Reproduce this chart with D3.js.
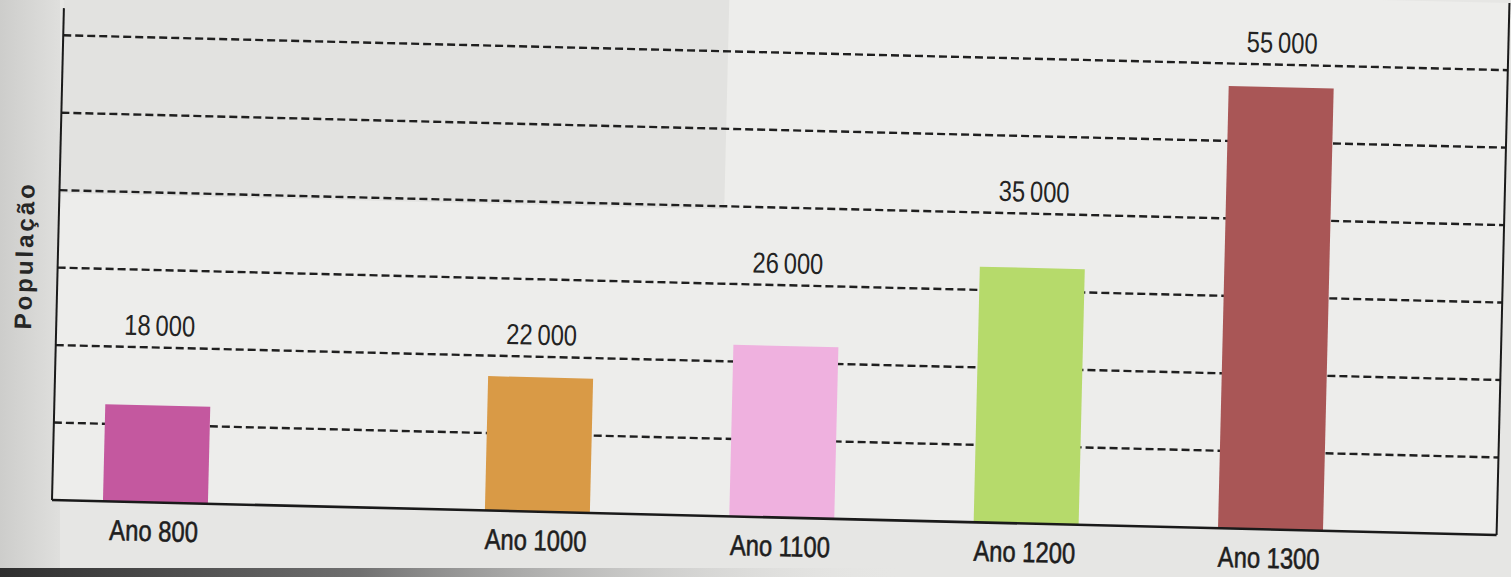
<!DOCTYPE html>
<html>
<head>
<meta charset="utf-8">
<script src="https://cdn.jsdelivr.net/npm/d3@7"></script>
<style>
  html, body { margin: 0; padding: 0; background: #e4e4e2; }
  svg { display: block; }
</style>
</head>
<body>
<svg id="chart" width="1511" height="577"></svg>
<script>
// données
const anos = [800, 1000, 1100, 1200, 1300];
const populacao = [18000, 22000, 26000, 35000, 55000];
const cores = ["#c4589f", "#d99a46", "#efb1df", "#b6da6b", "#a95656"];
const eixoY = "População";

const svg = d3.select("#chart");
const W = 1445, H = 492;       // cadre du graphique (non incliné)
const angle = 1.385;           // la photo est légèrement tournée
const police = "'Liberation Sans', Arial, sans-serif";
const etroit = "scale(0.82,1)"; // police condensée

// fond de la page photographiée
const defs = svg.append("defs");
const gLeft = defs.append("linearGradient").attr("id", "bordGauche");
gLeft.append("stop").attr("offset", "0%").attr("stop-color", "#cdcdcb");
gLeft.append("stop").attr("offset", "100%").attr("stop-color", "#dfdfdd");
const gBas = defs.append("linearGradient").attr("id", "bordBas");
gBas.append("stop").attr("offset", "0%").attr("stop-color", "#2e2e2e");
gBas.append("stop").attr("offset", "40%").attr("stop-color", "#707070");
gBas.append("stop").attr("offset", "100%").attr("stop-color", "#e4e4e2").attr("stop-opacity", 0);

svg.append("rect").attr("width", 1511).attr("height", 577).attr("fill", "#e6e6e4");
svg.append("rect").attr("width", 60).attr("height", 577).attr("fill", "url(#bordGauche)");

const g = svg.append("g")
    .attr("transform", `translate(52,500) rotate(${angle}) translate(0,${-H})`);

// zone intérieure plus claire
g.append("rect")
    .attr("x", 0).attr("y", -40)
    .attr("width", W).attr("height", H + 40)
    .attr("fill", "#ededeb");
g.append("rect")
    .attr("x", 0).attr("y", -40)
    .attr("width", 665).attr("height", 225)
    .attr("fill", "#e2e2e0");

svg.append("rect")
    .attr("x", 0).attr("y", 568).attr("width", 900).attr("height", 9)
    .attr("fill", "url(#bordBas)");

// échelles
const x = d3.scaleLinear()
    .domain([800, 1000, 1300])
    .range([W * 0.0716, W * 0.336, W * 0.8435]);

const y = d3.scaleLinear()
    .domain([7600, 60000])
    .range([H, 3]);

// lignes pointillées
const grid = d3.scaleLinear().domain([0, 6.35]).range([H, 0]);
g.append("g")
    .selectAll("line")
    .data(grid.ticks(6).filter(d => d > 0))
    .enter().append("line")
    .attr("x1", 0)
    .attr("x2", W)
    .attr("y1", d => grid(d))
    .attr("y2", d => grid(d))
    .attr("stroke", "#1f1f1f")
    .attr("stroke-width", 2.4)
    .attr("stroke-dasharray", "8,4");

// barres
const larg = 105;
const dados = anos.map((a, i) => ({ ano: a, valor: populacao[i], cor: cores[i] }));

g.append("g")
    .selectAll("rect")
    .data(dados)
    .enter().append("rect")
    .attr("x", d => x(d.ano) - larg / 2)
    .attr("y", d => y(d.valor))
    .attr("width", larg)
    .attr("height", d => H - y(d.valor))
    .attr("fill", d => d.cor);

// valeurs : posées juste au-dessus de la première ligne pointillée qui dépasse la barre
const fmt = v => d3.format(",")(v).replace(",", "\u2009");
const posLabel = v => grid(Math.ceil(grid.invert(y(v)))) - 12;
g.append("g")
    .selectAll("text")
    .data(dados)
    .enter().append("text")
    .attr("transform", d => `translate(${x(d.ano)},${posLabel(d.valor)}) ${etroit}`)
    .attr("text-anchor", "middle")
    .attr("font-family", police)
    .attr("font-size", "29px")
    .attr("fill", "#232323")
    .text(d => fmt(d.valor));

// axes
const axeX = g.append("g")
    .attr("transform", `translate(0,${H})`)
    .call(d3.axisBottom(x)
        .tickValues(anos)
        .tickSize(0)
        .tickPadding(18)
        .tickFormat(d => "Ano " + d));
axeX.select(".domain").remove();
axeX.selectAll("text")
    .attr("transform", etroit)
    .attr("dx", -2)
    .attr("font-family", police)
    .attr("font-size", "29px")
    .attr("fill", "#1e1e1e")
    .attr("stroke", "#1e1e1e")
    .attr("stroke-width", 0.6);

g.append("line")
    .attr("x1", 0).attr("x2", W)
    .attr("y1", H).attr("y2", H)
    .attr("stroke", "#1a1a1a").attr("stroke-width", 2.6);
g.append("line")
    .attr("x1", 0).attr("x2", 0)
    .attr("y1", 0).attr("y2", H)
    .attr("stroke", "#1a1a1a").attr("stroke-width", 2);
g.append("line")
    .attr("x1", W).attr("x2", W)
    .attr("y1", -40).attr("y2", H)
    .attr("stroke", "#1a1a1a").attr("stroke-width", 2);

// titre de l'axe vertical
g.append("text")
    .attr("transform", `translate(-25,${H - 244}) rotate(-90)`)
    .attr("text-anchor", "middle")
    .attr("font-family", police)
    .attr("font-weight", "bold")
    .attr("font-size", "24px")
    .attr("letter-spacing", "3px")
    .attr("fill", "#262626")
    .text(eixoY);
</script>
</body>
</html>
